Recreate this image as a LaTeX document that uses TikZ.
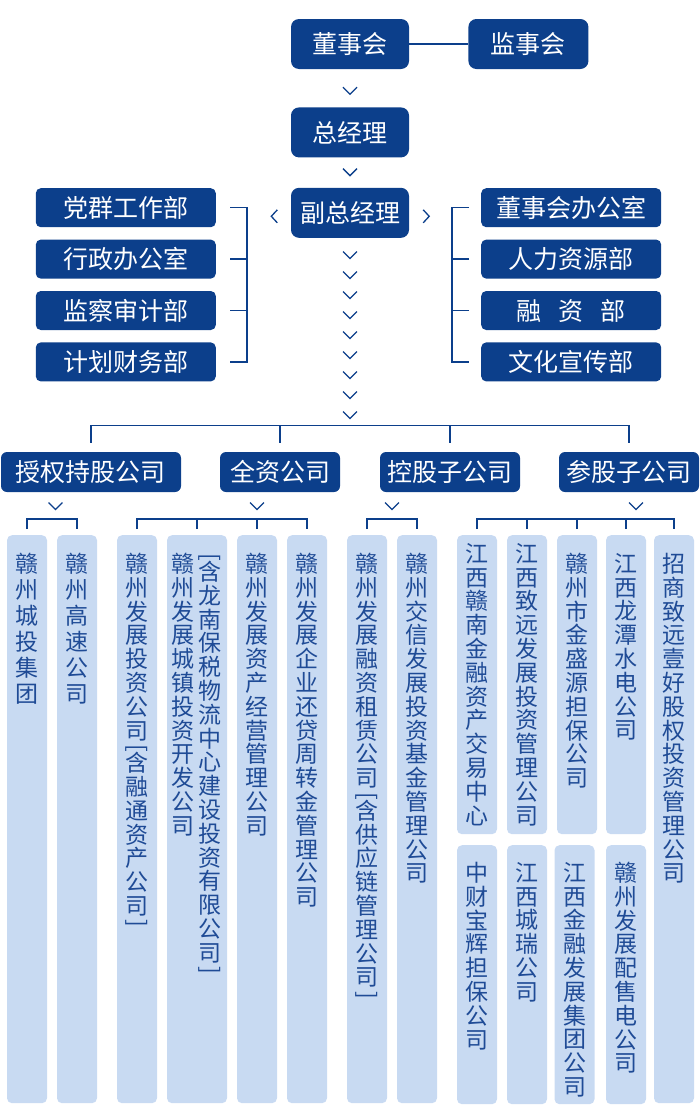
\documentclass[tikz,border=0pt]{standalone}
\usepackage{fontspec}
\setmainfont{Noto Sans CJK SC}
\usepackage{graphicx}
\usetikzlibrary{positioning,calc}

\definecolor{boxblue}{HTML}{0C3F8B}
\definecolor{colblue}{HTML}{C8DAF2}
\definecolor{coltext}{HTML}{1F4B96}

% brackets for the vertical texts
\newcommand{\vlbrk}{\rotatebox[origin=c]{-90}{[}}
\newcommand{\vrbrk}{\rotatebox[origin=c]{-90}{]}}

\begin{document}
\begin{tikzpicture}[x=1pt, y=-1pt,
        topbox/.style={fill=boxblue, text=white, rounded corners=8pt, inner sep=0pt, minimum width=118pt, minimum height=50pt, font=\fontsize{25}{28}\selectfont},
        dept/.style={topbox, rounded corners=5pt, minimum width=180pt, minimum height=39pt},
        grp/.style={topbox, rounded corners=6pt, minimum width=120pt, minimum height=40pt},
        col/.style={fill=colblue, rounded corners=5pt, inner sep=0pt, minimum width=40pt, anchor=north},
        coltxt/.style={text=coltext, align=center, anchor=north, inner sep=0pt, font=\fontsize{23}{23.8}\selectfont},
        coltxtw/.style={coltxt, font=\fontsize{23}{26}\selectfont},
        link/.style={draw=boxblue, line width=1.3pt},
        chev/.pic={\draw[link] (-7,-3.5) -- (0,3.5) -- (7,-3.5);},
        chevl/.pic={\draw[link] (3,-6.5) -- (-3,0) -- (3,6.5);},
        chevr/.pic={\draw[link] (-3,-6.5) -- (3,0) -- (-3,6.5);}
    ]
        \useasboundingbox (0,0) rectangle (700,1114);

        % Top
        \node [topbox] (dsh) at (350,44) {董事会};
        \node [topbox, minimum width=120pt, right=59pt of dsh] (jsh) {监事会};
        \node [topbox, below=38pt of dsh] (zjl) {总经理};
        \node [topbox, below=30pt of zjl] (fzjl) {副总经理};

        % Departments
        \node [dept, anchor=north east] (dqgz) at (216,188) {党群工作部};
        \node [dept, below=12pt of dqgz] (xzbg) {行政办公室};
        \node [dept, below=12pt of xzbg] (jcsj) {监察审计部};
        \node [dept, below=12pt of jcsj] (jhcw) {计划财务部};
        \node [dept, anchor=north west] (dshb) at (481,188) {董事会办公室};
        \node [dept, below=12pt of dshb] (rlzy) {人力资源部};
        \node [dept, below=12pt of rlzy] (rzb) {融\hspace{17pt}资\hspace{17pt}部};
        \node [dept, below=12pt of rzb] (whxc) {文化宣传部};

        % Company groups
        \node [grp, minimum width=180pt] (sqcg) at (91,472) {授权持股公司};
        \node [grp] (qzgs) at (280,472) {全资公司};
        \node [grp, minimum width=140pt] (kgzgs) at (450,472) {控股子公司};
        \node [grp, minimum width=140pt] (cgzgs) at (629,472) {参股子公司};

        % Companies
        \node [col, minimum height=568pt] (gzct) at (27,535) {};
        \node [col, minimum height=568pt] (gzgs) at (77,535) {};
        \node [col, minimum height=568pt] (fztz) at (137,535) {};
        \node [col, minimum height=568pt, minimum width=60pt] (czkf) at (197,535) {};
        \node [col, minimum height=568pt] (zcjy) at (257,535) {};
        \node [col, minimum height=568pt] (hdzz) at (307,535) {};
        \node [col, minimum height=568pt] (rzzl) at (367,535) {};
        \node [col, minimum height=568pt] (jxjj) at (417,535) {};
        \node [col, minimum height=299pt] (gnjr) at (477,535) {};
        \node [col, minimum height=299pt] (zytz) at (527,535) {};
        \node [col, minimum height=299pt] (jsy) at (577,535) {};
        \node [col, minimum height=299pt] (ltsd) at (626,535) {};
        \node [col, minimum height=568pt] (zszy) at (674,535) {};
        \node [col, minimum height=259pt] (zcbh) at (477,845) {};
        \node [col, minimum height=259pt] (jxcr) at (527,845) {};
        \node [col, minimum height=259pt] (jrfz) at (574.5,845) {};
        \node [col, minimum height=259pt] (gzpsd) at (626,845) {};

        \node [coltxtw] (gzct-t) at ([yshift=-18pt]gzct.north) {赣\\州\\城\\投\\集\\团};
        \node [coltxtw] (gzgs-t) at ([yshift=-18pt]gzgs.north) {赣\\州\\高\\速\\公\\司};
        \node [coltxt] (fztz-t) at ([yshift=-18pt]fztz.north) {赣\\州\\发\\展\\投\\资\\公\\司\\[-7.5pt]\vlbrk\\[-7.5pt]含\\融\\通\\资\\产\\公\\司\\[-7.5pt]\vrbrk};
        \node [coltxt] (czkf-t) at ([xshift=-14.5pt, yshift=-18pt]czkf.north) {赣\\州\\发\\展\\城\\镇\\投\\资\\开\\发\\公\\司};
        \node [coltxt] (lnbs-t) at ([xshift=13pt, yshift=-18pt]czkf.north) {\vlbrk\\[-7.5pt]含\\龙\\南\\保\\税\\物\\流\\中\\心\\建\\设\\投\\资\\有\\限\\公\\司\\[-7.5pt]\vrbrk};
        \node [coltxt] (zcjy-t) at ([yshift=-18pt]zcjy.north) {赣\\州\\发\\展\\资\\产\\经\\营\\管\\理\\公\\司};
        \node [coltxt] (hdzz-t) at ([yshift=-18pt]hdzz.north) {赣\\州\\发\\展\\企\\业\\还\\贷\\周\\转\\金\\管\\理\\公\\司};
        \node [coltxt] (rzzl-t) at ([yshift=-18pt]rzzl.north) {赣\\州\\发\\展\\融\\资\\租\\赁\\公\\司\\[-7.5pt]\vlbrk\\[-7.5pt]含\\供\\应\\链\\管\\理\\公\\司\\[-7.5pt]\vrbrk};
        \node [coltxt] (jxjj-t) at ([yshift=-18pt]jxjj.north) {赣\\州\\交\\信\\发\\展\\投\\资\\基\\金\\管\\理\\公\\司};
        \node [coltxt] (gnjr-t) at ([yshift=-8pt]gnjr.north) {江\\西\\赣\\南\\金\\融\\资\\产\\交\\易\\中\\心};
        \node [coltxt] (zytz-t) at ([yshift=-8pt]zytz.north) {江\\西\\致\\远\\发\\展\\投\\资\\管\\理\\公\\司};
        \node [coltxt] (jsy-t) at ([yshift=-18pt]jsy.north) {赣\\州\\市\\金\\盛\\源\\担\\保\\公\\司};
        \node [coltxt] (ltsd-t) at ([yshift=-18pt]ltsd.north) {江\\西\\龙\\潭\\水\\电\\公\\司};
        \node [coltxt] (zszy-t) at ([yshift=-18pt]zszy.north) {招\\商\\致\\远\\壹\\好\\股\\权\\投\\资\\管\\理\\公\\司};
        \node [coltxt] (zcbh-t) at ([yshift=-17pt]zcbh.north) {中\\财\\宝\\辉\\担\\保\\公\\司};
        \node [coltxt] (jxcr-t) at ([yshift=-17pt]jxcr.north) {江\\西\\城\\瑞\\公\\司};
        \node [coltxt] (jrfz-t) at ([yshift=-17pt]jrfz.north) {江\\西\\金\\融\\发\\展\\集\\团\\公\\司};
        \node [coltxt] (gzpsd-t) at ([yshift=-17pt]gzpsd.north) {赣\\州\\发\\展\\配\\售\\电\\公\\司};

        % Connections
        \draw [link] (dsh) -- (jsh);
        \pic at ([yshift=-21.5pt]dsh.south) {chev};
        \pic at ([yshift=-14.5pt]zjl.south) {chev};
        \foreach \i in {0,...,8}
            \pic at ([yshift={-17pt-20pt*\i}]fzjl.south) {chev};
        \pic at ([xshift=-16.5pt, yshift=-3.5pt]fzjl.west) {chevl};
        \pic at ([xshift=17pt, yshift=-3.5pt]fzjl.east) {chevr};

        \draw [link] ([xshift=14pt]dqgz.east) -| ([xshift=31pt]jhcw.east) -- ([xshift=14pt]jhcw.east);
        \foreach \n in {xzbg,jcsj}
            \draw [link] ([xshift=14pt]\n.east) -- ([xshift=31pt]\n.east);
        \draw [link] ([xshift=-12pt]dshb.west) -| ([xshift=-29pt]whxc.west) -- ([xshift=-12pt]whxc.west);
        \foreach \n in {rlzy,rzb}
            \draw [link] ([xshift=-12pt]\n.west) -- ([xshift=-29pt]\n.west);

        \draw [link] ([yshift=9pt]sqcg.north) |- ([yshift=26pt]cgzgs.north) -- ([yshift=9pt]cgzgs.north);
        \foreach \n in {qzgs,kgzgs}
            \draw [link] ([yshift=9pt]\n.north) -- ([yshift=26pt]\n.north);

        \pic at (55.5,506) {chev};
        \pic at (257,506) {chev};
        \pic at (392,506) {chev};
        \pic at (636,506) {chev};

        \draw [link] ([yshift=6pt]gzct.north) |- ([yshift=16pt]gzgs.north) -- ([yshift=6pt]gzgs.north);
        \draw [link] ([yshift=6pt]fztz.north) |- ([yshift=16pt]hdzz.north) -- ([yshift=6pt]hdzz.north);
        \foreach \n in {czkf,zcjy}
            \draw [link] ([yshift=6pt]\n.north) -- ([yshift=16pt]\n.north);
        \draw [link] ([yshift=6pt]rzzl.north) |- ([yshift=16pt]jxjj.north) -- ([yshift=6pt]jxjj.north);
        \draw [link] ([yshift=6pt]gnjr.north) |- ([yshift=16pt]zszy.north) -- ([yshift=6pt]zszy.north);
        \foreach \n in {zytz,jsy,ltsd}
            \draw [link] ([yshift=6pt]\n.north) -- ([yshift=16pt]\n.north);
    \end{tikzpicture}
\end{document}
